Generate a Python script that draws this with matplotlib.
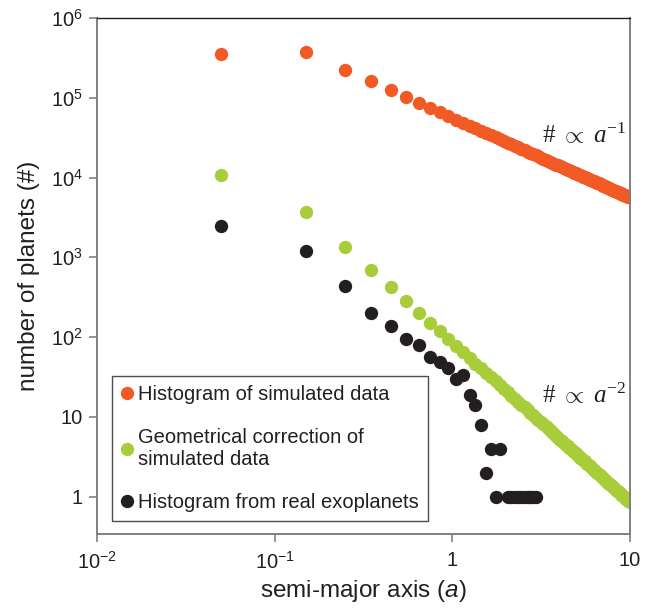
import numpy as np
import matplotlib
matplotlib.use("Agg")
import matplotlib.pyplot as plt
from matplotlib.ticker import FixedLocator, FixedFormatter, NullLocator

plt.rcParams["font.family"] = ["Liberation Sans", "DejaVu Sans"]
plt.rcParams["mathtext.fontset"] = "custom"
plt.rcParams["mathtext.rm"] = "Liberation Serif"
plt.rcParams["mathtext.it"] = "Liberation Serif:italic"
plt.rcParams["mathtext.sf"] = "Liberation Sans:italic"

# bin centres of the semi-major axis histogram (bin width 0.1)
a_bins = np.round(np.arange(0.05, 10.0, 0.1), 2)

# Histogram of simulated data
n_sim = [350000, 370000, 224000, 160000, 124000, 102000, 86000, 74700, 65900, 58900,
         53300, 48700, 44800, 41500, 38600, 36100, 33900, 32000, 30300, 28700,
         27300, 26000, 24900, 23800, 22900, 22000, 21100, 20400, 19600, 19000,
         18400, 17800, 17200, 16700, 16200, 15800, 15300, 14900, 14500, 14200,
         13800, 13500, 13200, 12900, 12600, 12300, 12000, 11800, 11500, 11300,
         11100, 10900, 10700, 10500, 10300, 10100, 9910, 9740, 9570, 9410,
         9260, 9110, 8960, 8820, 8680, 8550, 8420, 8300, 8180, 8060,
         7940, 7830, 7720, 7620, 7520, 7420, 7320, 7230, 7130, 7040,
         6960, 6870, 6790, 6710, 6630, 6550, 6470, 6400, 6330, 6260,
         6190, 6120, 6050, 5990, 5930, 5860, 5800, 5740, 5690, 5630]

# Geometrical correction of simulated data
n_geo = [10700, 3700, 1360, 694, 420, 281, 201, 151, 118, 94.2,
         77.1, 64.3, 54.4, 46.6, 40.4, 35.4, 31.2, 27.8, 24.8, 22.4,
         20.2, 18.4, 16.8, 15.4, 14.2, 13.1, 12.1, 11.2, 10.5, 9.77,
         9.14, 8.57, 8.05, 7.57, 7.14, 6.74, 6.38, 6.04, 5.73, 5.45,
         5.18, 4.94, 4.71, 4.49, 4.29, 4.11, 3.93, 3.77, 3.61, 3.47,
         3.33, 3.20, 3.08, 2.97, 2.86, 2.76, 2.66, 2.57, 2.48, 2.40,
         2.32, 2.25, 2.18, 2.11, 2.04, 1.98, 1.92, 1.87, 1.81, 1.76,
         1.71, 1.66, 1.62, 1.57, 1.53, 1.49, 1.45, 1.42, 1.38, 1.34,
         1.31, 1.28, 1.25, 1.22, 1.19, 1.16, 1.14, 1.11, 1.09, 1.06,
         1.04, 1.02, 0.99, 0.97, 0.95, 0.93, 0.91, 0.89, 0.88, 0.86]

# Histogram from real exoplanets (empty bins left out)
a_real = [0.05, 0.15, 0.25, 0.35, 0.45, 0.55, 0.65, 0.75, 0.85, 0.95,
          1.05, 1.15, 1.25, 1.35, 1.45, 1.55, 1.65, 1.75, 1.85,
          2.05, 2.15, 2.25, 2.35, 2.45, 2.55, 2.65, 2.75, 2.85, 2.95]
n_real = [2460, 1200, 434, 200, 136, 94, 79, 56, 48, 41,
          30, 33, 19, 14, 8, 2, 4, 1, 4,
          1, 1, 1, 1, 1, 1, 1, 1, 1, 1]

labels = ["Histogram of simulated data",
          "Geometrical correction of\nsimulated data",
          "Histogram from real exoplanets"]
colors = ["#F15A24", "#A8CC3A", "#231F20"]

x_ticks = [0.01, 0.1, 1, 10]
x_ticklabels = [r"$\mathregular{10^{-2}}$", r"$\mathregular{10^{-1}}$", "1", "10"]
y_ticks = [1, 10, 1e2, 1e3, 1e4, 1e5, 1e6]
y_ticklabels = ["1", "10", r"$\mathregular{10^{2}}$", r"$\mathregular{10^{3}}$",
                r"$\mathregular{10^{4}}$", r"$\mathregular{10^{5}}$", r"$\mathregular{10^{6}}$"]

fig = plt.figure(figsize=(6.53, 6.12), dpi=100)
ax = fig.add_axes([0.1485, 0.1275, 0.8163, 0.8431])

ms = 9.6
ax.plot(a_bins, n_sim, "o", color=colors[0], ms=ms, mew=0, label=labels[0])
ax.plot(a_bins, n_geo, "o", color=colors[1], ms=ms, mew=0, label=labels[1])
ax.plot(a_real, n_real, "o", color=colors[2], ms=ms, mew=0, label=labels[2])

ax.set_xscale("log")
ax.set_yscale("log")
ax.set_xlim(0.01, 10)
ax.set_ylim(0.34, 1e6)

ax.xaxis.set_major_locator(FixedLocator(x_ticks))
ax.xaxis.set_major_formatter(FixedFormatter(x_ticklabels))
ax.yaxis.set_major_locator(FixedLocator(y_ticks))
ax.yaxis.set_major_formatter(FixedFormatter(y_ticklabels))
ax.xaxis.set_minor_locator(NullLocator())
ax.yaxis.set_minor_locator(NullLocator())
ax.tick_params(axis="both", direction="out", length=6, width=1.2, color="#808080",
               labelsize=14.5, labelcolor="#231F20")
ax.tick_params(axis="x", pad=6)
ax.tick_params(axis="y", pad=4)

for side in ["left", "bottom", "right"]:
    ax.spines[side].set_color("#808080")
    ax.spines[side].set_linewidth(1.4)
ax.spines["top"].set_color("#231F20")
ax.spines["top"].set_linewidth(1.0)

ax.set_xlabel(r"semi-major axis ($\mathsf{a}$)", fontsize=17.5, labelpad=4, color="#231F20")
ax.set_ylabel("number of planets (#)", fontsize=17.5, labelpad=8, color="#231F20")

ax.text(3.2, 2.7e4, r"$\#\ \propto\ a^{-1}$", fontsize=18, color="#231F20")
ax.text(3.2, 15, r"$\#\ \propto\ a^{-2}$", fontsize=18, color="#231F20")

leg = ax.legend(loc="lower left", bbox_to_anchor=(0.028, 0.025), borderaxespad=0,
                fontsize=14.5, frameon=True, fancybox=False, edgecolor="#231F20",
                handlelength=0.6, handletextpad=0.25, borderpad=0.45, labelspacing=1.2,
                numpoints=1)
leg.get_frame().set_linewidth(1.0)
for t in leg.get_texts():
    t.set_color("#231F20")

fig.savefig("out.png", dpi=100)
